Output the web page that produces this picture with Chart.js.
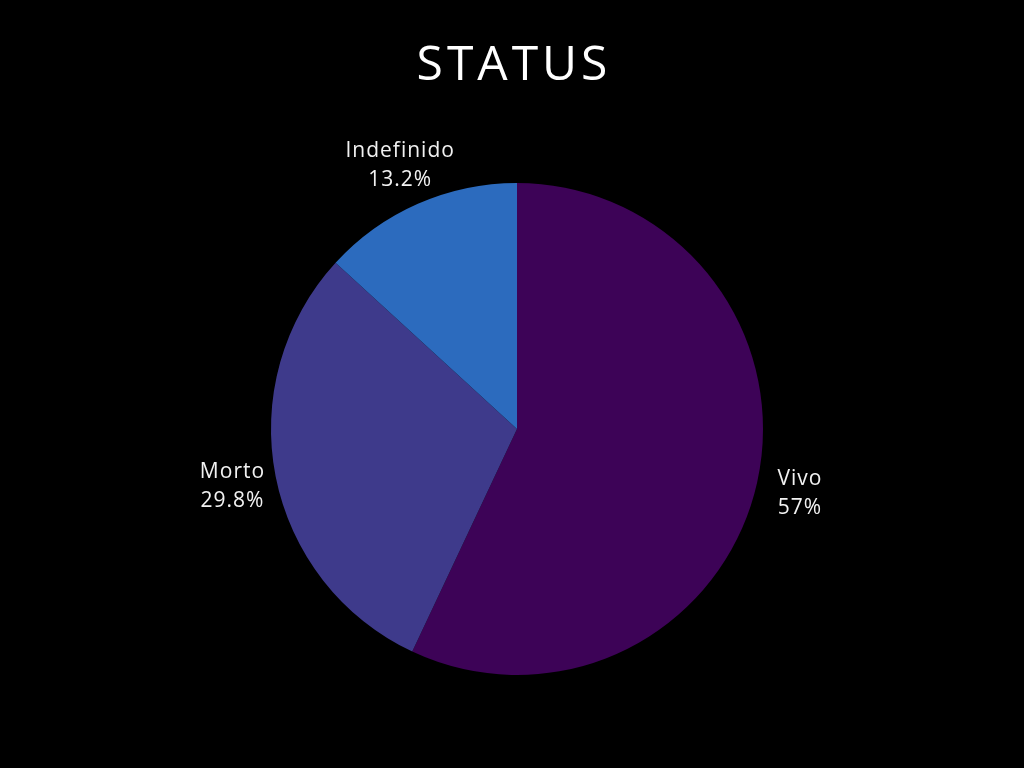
<!DOCTYPE html>
<html>
<head>
<meta charset="utf-8">
<script src="https://cdn.jsdelivr.net/npm/chart.js@4"></script>
<style>
html,body{margin:0;padding:0;background:#000;}
#wrap{width:1024px;height:768px;position:relative;}
</style>
</head>
<body>
<div id="wrap"><canvas id="c" width="1024" height="768"></canvas></div>
<script>
const categories = ["Vivo", "Morto", "Indefinido"];
const percentages = [57, 29.8, 13.2];
const percentLabels = ["57%", "29.8%", "13.2%"];
const sliceColors = ["#3d0357", "#3e3a8b", "#2c6bbe"];
const titleText = "STATUS";

const titleAndLabels = {
  id: 'titleAndLabels',
  afterDraw(chart) {
    const ctx = chart.ctx;
    ctx.save();
    // title
    ctx.fillStyle = '#ffffff';
    ctx.font = '400 48px "Open Sans", sans-serif';
    ctx.textAlign = 'center';
    ctx.textBaseline = 'alphabetic';
    if ('letterSpacing' in ctx) ctx.letterSpacing = '4px';
    ctx.fillText(titleText, chart.width / 2 + 2, 80);
    // slice labels
    const meta = chart.getDatasetMeta(0);
    ctx.fillStyle = '#f2f2f2';
    ctx.font = '400 21px "Open Sans", sans-serif';
    if ('letterSpacing' in ctx) ctx.letterSpacing = '1px';
    meta.data.forEach((arc, i) => {
      const p = arc.getProps(['x','y','startAngle','endAngle','outerRadius'], true);
      const mid = (p.startAngle + p.endAngle) / 2;
      const r = p.outerRadius + 44;
      const x = p.x + Math.cos(mid) * r;
      const y = p.y + Math.sin(mid) * r;
      ctx.fillText(categories[i], x, y - 7);
      ctx.fillText(percentLabels[i], x, y + 22);
    });
    ctx.restore();
  }
};

new Chart(document.getElementById('c'), {
  type: 'pie',
  data: {
    labels: categories,
    datasets: [{
      data: percentages,
      backgroundColor: sliceColors,
      borderWidth: 0,
      hoverOffset: 0
    }]
  },
  options: {
    responsive: false,
    animation: false,
    layout: { padding: { top: 183, bottom: 93, left: 271, right: 261 } },
    plugins: {
      legend: { display: false },
      tooltip: { enabled: false },
      title: { display: false }
    }
  },
  plugins: [titleAndLabels]
});
</script>
</body>
</html>
